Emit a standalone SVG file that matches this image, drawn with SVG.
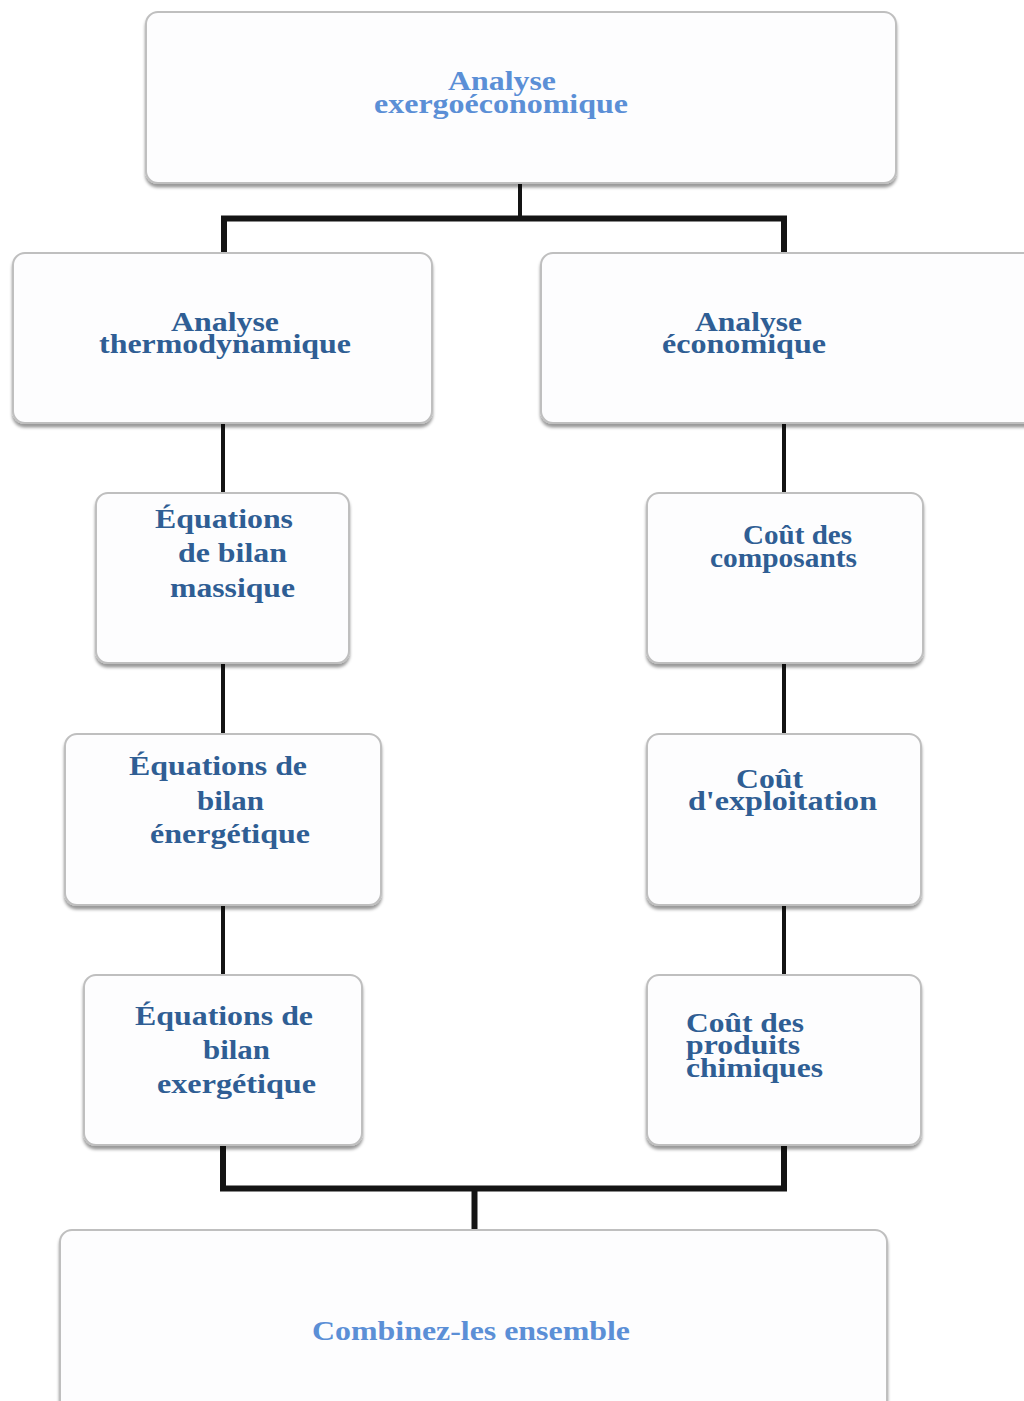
<svg xmlns="http://www.w3.org/2000/svg" width="1024" height="1401" viewBox="0 0 1024 1401">
<style>
.box{fill:#fdfdfe;stroke:#bfbfbf;stroke-width:2;filter:url(#sh)}
.t{font-family:"Liberation Serif","Times New Roman",serif;font-weight:bold;font-size:27px;fill:#2f5e94}
.lt{fill:#5b8fd6}
.c{fill:none;stroke:#141414;stroke-width:6;stroke-linejoin:miter;stroke-linecap:butt}
.c4{fill:none;stroke:#141414;stroke-width:4}
</style>
<defs>
<filter id="sh" x="-5%" y="-5%" width="110%" height="115%">
<feDropShadow dx="0" dy="3.5" stdDeviation="1.8" flood-color="#000" flood-opacity="0.4"/>
</filter>
</defs>
<rect width="1024" height="1401" fill="#ffffff"/>
<g id="connectors">
<path class="c4" d="M520,183 V218"/>
<path class="c" d="M224,253 V218.5 H784 V253"/>
<path class="c4" d="M223,423 V493"/>
<path class="c4" d="M784,423 V493"/>
<path class="c4" d="M223,663 V734"/>
<path class="c4" d="M784,663 V734"/>
<path class="c4" d="M223,905 V975"/>
<path class="c4" d="M784,905 V975"/>
<path class="c" d="M223,1145 V1188.5 H784 V1145"/>
<path class="c" d="M474.5,1188.5 V1230"/>
</g>
<g id="n-exergo">
<rect class="box" x="146" y="12" width="750" height="171" rx="12"/>
<text class="t lt" x="448" y="90" textLength="108" lengthAdjust="spacingAndGlyphs">Analyse</text>
<text class="t lt" x="374" y="113" textLength="254" lengthAdjust="spacingAndGlyphs">exergoéconomique</text>
</g>
<g id="n-thermo">
<rect class="box" x="13" y="253" width="419" height="170" rx="12"/>
<text class="t" x="171" y="331" textLength="108" lengthAdjust="spacingAndGlyphs">Analyse</text>
<text class="t" x="99" y="353" textLength="252" lengthAdjust="spacingAndGlyphs">thermodynamique</text>
</g>
<g id="n-eco">
<rect class="box" x="541" y="253" width="500" height="170" rx="12"/>
<text class="t" x="695" y="331" textLength="107" lengthAdjust="spacingAndGlyphs">Analyse</text>
<text class="t" x="662" y="353" textLength="164" lengthAdjust="spacingAndGlyphs">économique</text>
</g>
<g id="n-massique">
<rect class="box" x="96" y="493" width="253" height="170" rx="12"/>
<text class="t" x="155" y="528" textLength="138" lengthAdjust="spacingAndGlyphs">Équations</text>
<text class="t" x="178" y="562" textLength="109" lengthAdjust="spacingAndGlyphs">de bilan</text>
<text class="t" x="170" y="597" textLength="125" lengthAdjust="spacingAndGlyphs">massique</text>
</g>
<g id="n-composants">
<rect class="box" x="647" y="493" width="276" height="170" rx="12"/>
<text class="t" x="743" y="544" textLength="109" lengthAdjust="spacingAndGlyphs">Coût des</text>
<text class="t" x="710" y="567" textLength="147" lengthAdjust="spacingAndGlyphs">composants</text>
</g>
<g id="n-energetique">
<rect class="box" x="65" y="734" width="316" height="171" rx="12"/>
<text class="t" x="129" y="775" textLength="178" lengthAdjust="spacingAndGlyphs">Équations de</text>
<text class="t" x="197" y="810" textLength="67" lengthAdjust="spacingAndGlyphs">bilan</text>
<text class="t" x="150" y="843" textLength="160" lengthAdjust="spacingAndGlyphs">énergétique</text>
</g>
<g id="n-exploitation">
<rect class="box" x="647" y="734" width="274" height="171" rx="12"/>
<text class="t" x="736" y="788" textLength="67" lengthAdjust="spacingAndGlyphs">Coût</text>
<text class="t" x="688" y="810" textLength="189" lengthAdjust="spacingAndGlyphs">d'exploitation</text>
</g>
<g id="n-exergetique">
<rect class="box" x="84" y="975" width="278" height="170" rx="12"/>
<text class="t" x="135" y="1025" textLength="178" lengthAdjust="spacingAndGlyphs">Équations de</text>
<text class="t" x="203" y="1059" textLength="67" lengthAdjust="spacingAndGlyphs">bilan</text>
<text class="t" x="157" y="1093" textLength="159" lengthAdjust="spacingAndGlyphs">exergétique</text>
</g>
<g id="n-chimiques">
<rect class="box" x="647" y="975" width="274" height="170" rx="12"/>
<text class="t" x="686" y="1032" textLength="118" lengthAdjust="spacingAndGlyphs">Coût des</text>
<text class="t" x="686" y="1054" textLength="114" lengthAdjust="spacingAndGlyphs">produits</text>
<text class="t" x="686" y="1077" textLength="137" lengthAdjust="spacingAndGlyphs">chimiques</text>
</g>
<g id="n-combinez">
<rect class="box" x="60" y="1230" width="827" height="185" rx="12"/>
<text class="t lt" x="312" y="1340" textLength="318" lengthAdjust="spacingAndGlyphs">Combinez-les ensemble</text>
</g>
</svg>
